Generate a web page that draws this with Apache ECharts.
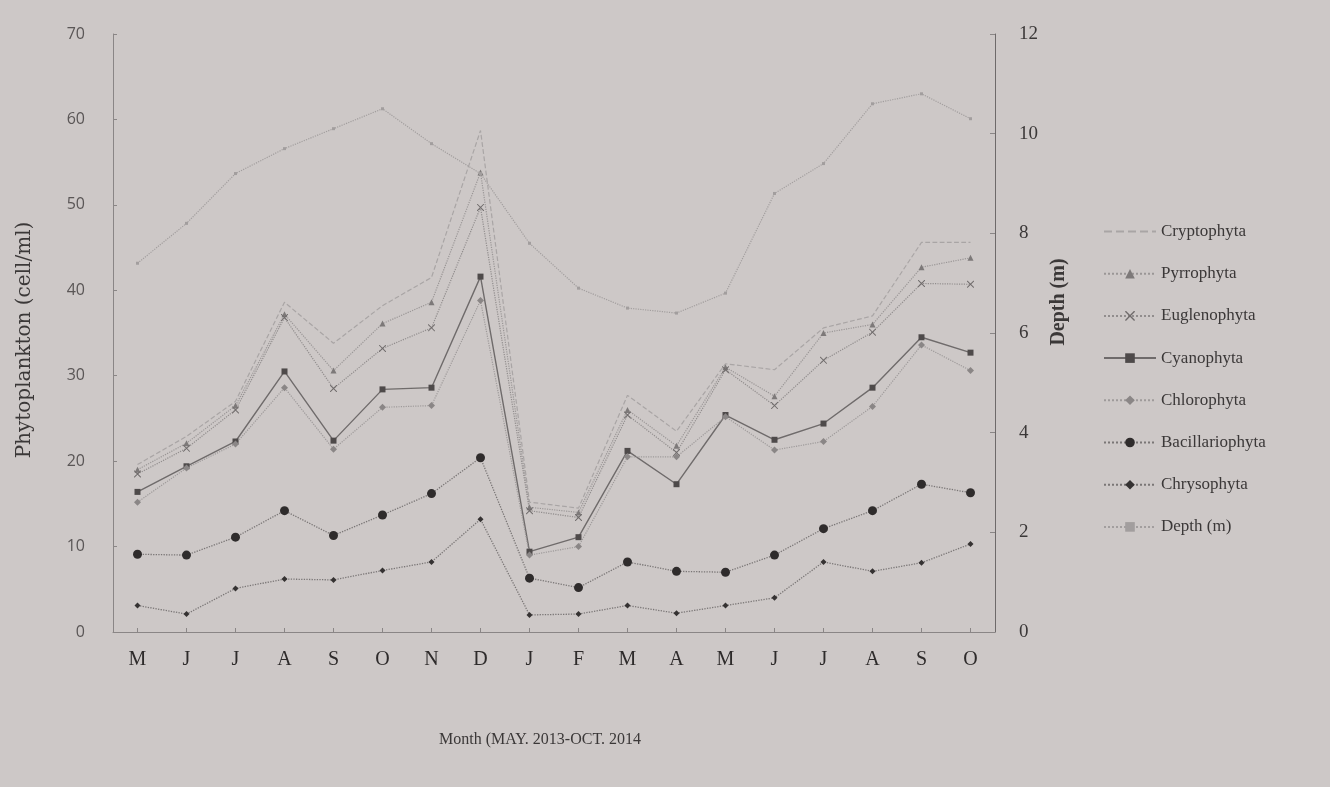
<!DOCTYPE html>
<html>
<head>
<meta charset="utf-8">
<script src="https://cdn.jsdelivr.net/npm/echarts@6/dist/echarts.min.js"></script>
<style>
  html, body { margin: 0; padding: 0; background: #cdc8c7; }
  #chart { width: 1330px; height: 787px; }
</style>
</head>
<body>
<div id="chart"></div>
<script>
// Monthly phytoplankton densities (cell/ml) and water depth (m), May 2013 - Oct 2014
const months = ['M', 'J', 'J', 'A', 'S', 'O', 'N', 'D', 'J', 'F', 'M', 'A', 'M', 'J', 'J', 'A', 'S', 'O'];

const cryptophyta     = [19.6, 22.9, 27.0, 38.6, 33.8, 38.2, 41.5, 58.7, 15.2, 14.5, 27.7, 23.5, 31.4, 30.7, 35.6, 37.0, 45.6, 45.6];
const pyrrophyta      = [19.0, 22.1, 26.5, 37.2, 30.6, 36.1, 38.6, 53.8, 14.6, 14.0, 26.0, 21.8, 31.0, 27.6, 35.0, 36.0, 42.7, 43.8];
const euglenophyta    = [18.5, 21.5, 26.0, 36.8, 28.5, 33.2, 35.6, 49.7, 14.2, 13.4, 25.4, 21.0, 30.7, 26.5, 31.8, 35.1, 40.8, 40.7];
const cyanophyta      = [16.4, 19.4, 22.3, 30.5, 22.4, 28.4, 28.6, 41.6, 9.4, 11.1, 21.2, 17.3, 25.4, 22.5, 24.4, 28.6, 34.5, 32.7];
const chlorophyta     = [15.2, 19.2, 22.0, 28.6, 21.4, 26.3, 26.5, 38.8, 9.0, 10.0, 20.5, 20.5, 25.2, 21.3, 22.3, 26.4, 33.6, 30.6];
const bacillariophyta = [9.1, 9.0, 11.1, 14.2, 11.3, 13.7, 16.2, 20.4, 6.3, 5.2, 8.2, 7.1, 7.0, 9.0, 12.1, 14.2, 17.3, 16.3];
const chrysophyta     = [3.1, 2.1, 5.1, 6.2, 6.1, 7.2, 8.2, 13.2, 2.0, 2.1, 3.1, 2.2, 3.1, 4.0, 8.2, 7.1, 8.1, 10.3];
const depth           = [7.4, 8.2, 9.2, 9.7, 10.1, 10.5, 9.8, 9.2, 7.8, 6.9, 6.5, 6.4, 6.8, 8.8, 9.4, 10.6, 10.8, 10.3];

const leftTicks = { min: 0, max: 70, interval: 10 };
const rightTicks = { min: 0, max: 12, interval: 2 };

const serif = '"Liberation Serif", "DejaVu Serif", serif';
const wideSerif = '"DejaVu Serif", "Liberation Serif", serif';
const sans = '"Open Sans", "Liberation Sans", sans-serif';
const xMark = 'path://M0,0 L10,10 M10,0 L0,10 M0,0 L1,0 L10,9 L10,10 L9,10 L0,1 Z M10,0 L10,1 L1,10 L0,10 L0,9 L9,0 Z';
const clear = 'rgba(0,0,0,0)';

function lineSeries(name, data, color, width, type, symbol, size, symColor, yIndex) {
  return {
    name: name,
    type: 'line',
    yAxisIndex: yIndex || 0,
    data: data,
    symbol: symbol,
    symbolSize: size,
    showSymbol: symColor !== clear,
    lineStyle: { color: color, width: width, type: type },
    itemStyle: { color: symColor, borderWidth: 0 },
    emphasis: { disabled: true },
    z: 3
  };
}

const chart = echarts.init(document.getElementById('chart'));
chart.setOption({
  backgroundColor: '#cdc8c7',
  animation: false,
  grid: { left: 113, right: 335, top: 34, bottom: 155 },
  legend: {
    orient: 'vertical',
    left: 1098,
    top: 218,
    itemWidth: 52,
    itemHeight: 12,
    itemGap: 25.2,
    textStyle: { fontFamily: serif, fontSize: 17, color: '#3b3838' },
    data: ['Cryptophyta', 'Pyrrophyta', 'Euglenophyta', 'Cyanophyta', 'Chlorophyta', 'Bacillariophyta', 'Chrysophyta', 'Depth (m)']
  },
  xAxis: {
    type: 'category',
    data: months,
    boundaryGap: true,
    name: 'Month (MAY. 2013-OCT. 2014',
    nameLocation: 'middle',
    nameGap: 100,
    nameTextStyle: { fontFamily: serif, fontSize: 16, color: '#3b3838', padding: [0, 28, 0, 0] },
    axisLine: { lineStyle: { color: '#8a8686', width: 1 } },
    axisTick: { show: true, alignWithLabel: true, length: -4, lineStyle: { color: '#8a8686' } },
    axisLabel: { fontFamily: serif, fontSize: 20, color: '#2e2b2b', margin: 18 },
    splitLine: { show: false }
  },
  yAxis: [
    {
      type: 'value',
      min: leftTicks.min,
      max: leftTicks.max,
      interval: leftTicks.interval,
      position: 'left',
      name: 'Phytoplankton (cell/ml)',
      nameLocation: 'middle',
      nameRotate: 90,
      nameGap: 78,
      nameTextStyle: { fontFamily: wideSerif, fontSize: 20, color: '#3b3838', padding: [0, 14, 0, 0] },
      axisLine: { show: true, lineStyle: { color: '#8a8686', width: 1 } },
      axisTick: { show: true, inside: true, length: 4, lineStyle: { color: '#8a8686' } },
      axisLabel: { fontFamily: sans, fontSize: 16, color: '#5a5656', margin: 28 },
      splitLine: { show: false }
    },
    {
      type: 'value',
      min: rightTicks.min,
      max: rightTicks.max,
      interval: rightTicks.interval,
      position: 'right',
      name: 'Depth (m)',
      nameLocation: 'middle',
      nameRotate: 90,
      nameGap: 54,
      nameTextStyle: { fontFamily: serif, fontSize: 20, fontWeight: 'bold', color: '#3b3838', padding: [0, 0, 0, 62] },
      axisLine: { show: true, lineStyle: { color: '#6e6a6a', width: 1 } },
      axisTick: { show: true, inside: true, length: 5, lineStyle: { color: '#8a8686' } },
      axisLabel: { fontFamily: serif, fontSize: 19, color: '#3b3838', margin: 24 },
      splitLine: { show: false }
    }
  ],
  series: [
    lineSeries('Cryptophyta', cryptophyta, '#a9a5a5', 1.2, 'dashed', 'circle', 1, clear),
    lineSeries('Pyrrophyta', pyrrophyta, '#9a9696', 1.2, 'dotted', 'triangle', 6, '#7d7979'),
    lineSeries('Euglenophyta', euglenophyta, '#918d8d', 1.2, 'dotted', xMark, 7, '#6f6b6b'),
    lineSeries('Cyanophyta', cyanophyta, '#6f6b6b', 1.4, 'solid', 'rect', 6, '#4e4a4a'),
    lineSeries('Chlorophyta', chlorophyta, '#9e9a9a', 1.2, 'dotted', 'diamond', 7, '#8a8686'),
    lineSeries('Bacillariophyta', bacillariophyta, '#7a7676', 1.3, 'dotted', 'circle', 9, '#2f2c2c'),
    lineSeries('Chrysophyta', chrysophyta, '#7a7676', 1.3, 'dotted', 'diamond', 6, '#353232'),
    lineSeries('Depth (m)', depth, '#a29e9e', 1.2, 'dotted', 'rect', 3, '#a29e9e', 1)
  ]
});
</script>
</body>
</html>
